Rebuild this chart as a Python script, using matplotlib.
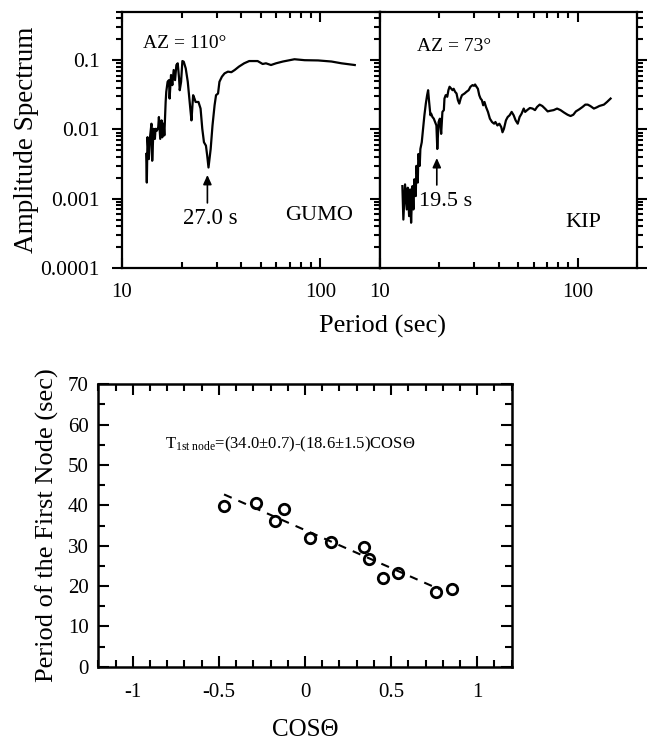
import matplotlib
matplotlib.use("Agg")
import matplotlib.pyplot as plt
from matplotlib.ticker import FixedLocator, NullFormatter, LogLocator, MultipleLocator

plt.rcParams['font.family'] = ['Liberation Serif', 'DejaVu Serif']
plt.rcParams['mathtext.fontset'] = 'custom'
plt.rcParams['mathtext.rm'] = 'Liberation Serif'
plt.rcParams['mathtext.it'] = 'Liberation Serif:italic'

# ---------------- data ----------------
gumo_T = [13.24, 13.34, 13.45, 13.66, 13.87, 14.08, 14.20, 14.42, 14.65, 14.76,
          15.0, 15.23, 15.35, 15.59, 15.83, 15.96, 16.21, 16.35, 16.6, 16.72,
          16.98, 17.26, 17.38, 17.67, 17.94, 18.22, 18.52, 18.8, 19.1, 19.4,
          19.55, 19.86, 20.16, 20.48, 20.96, 21.46, 22.1, 22.4, 22.84, 23.2,
          23.5, 24.3, 24.9, 25.4, 25.9, 26.5, 26.9, 27.3, 28.0, 28.6,
          29.3, 29.8, 30.5, 31.0, 31.9, 32.9, 34.2, 35.6, 37.0, 38.9,
          41.3, 43.8, 46.4, 48.3, 51.2, 53.2, 56.4, 59.8, 64.8, 74.1,
          83.4, 97.5, 113.8, 127.9, 149.2]
gumo_A = [0.00442, 0.00171, 0.00773, 0.00373, 0.00815, 0.0121, 0.00353, 0.0102, 0.0073, 0.0102,
          0.0096, 0.0108, 0.0151, 0.0073, 0.0135, 0.0077, 0.0121, 0.0082, 0.0249, 0.0349,
          0.0487, 0.0515, 0.0279, 0.061, 0.0436, 0.072, 0.0515, 0.085, 0.090, 0.0546,
          0.0368, 0.0487, 0.097, 0.095, 0.076, 0.0487, 0.020, 0.0135, 0.0312, 0.0279,
          0.0249, 0.0249, 0.020, 0.0102, 0.00653, 0.00583, 0.00417, 0.00282, 0.00522, 0.0114,
          0.0223, 0.0312, 0.033, 0.0487, 0.0577, 0.0644, 0.0682, 0.067, 0.072, 0.0807,
          0.090, 0.097, 0.097, 0.097, 0.088, 0.090, 0.085, 0.090, 0.0955, 0.103,
          0.0998, 0.099, 0.0955, 0.090, 0.085]

kip_T = [12.98, 13.13, 13.39, 13.66, 13.82, 14.04, 14.2, 14.37, 14.59, 14.76,
         14.93, 15.17, 15.28, 15.53, 15.64, 15.89, 16.01, 16.27, 16.52, 16.78,
         17.06, 17.32, 17.52, 17.73, 18.0, 18.15, 18.43, 18.72, 19.0, 19.3,
         19.5, 19.8, 20.1, 20.4, 20.7, 21.05, 21.2, 21.5, 21.9, 22.2,
         22.5, 22.9, 23.3, 23.6, 24.0, 24.4, 24.8, 25.2, 25.6, 26.0,
         26.8, 27.4, 28.1, 28.7, 29.4, 29.9, 30.3, 30.8, 31.3, 31.8,
         32.3, 32.8, 33.3, 33.8, 34.4, 35.2, 36.0, 36.9, 37.8, 38.4,
         39.3, 40.2, 41.1, 41.7, 42.4, 43.4, 44.3, 45.3, 46.4, 47.5,
         48.6, 49.8, 50.9, 52.1, 53.4, 54.3, 55.6, 57.4, 59.2, 60.9,
         62.4, 64.3, 66.3, 68.4, 70.6, 72.8, 75.7, 78.8, 82.0, 85.5,
         89.0, 92.2, 95.2, 98.1, 102, 106, 109.5, 112.6, 116, 121,
         125, 129, 136, 141, 147]
kip_A = [0.00152, 0.0005, 0.00161, 0.0007, 0.00144, 0.00056, 0.00136, 0.00045, 0.00152, 0.0007,
         0.00191, 0.00109, 0.00298, 0.00171, 0.00442, 0.00298, 0.00522, 0.00653, 0.0102, 0.016,
         0.0236, 0.0312, 0.0368, 0.0249, 0.016, 0.0169, 0.0151, 0.0143, 0.0128, 0.0114,
         0.00522, 0.0128, 0.0143, 0.00863, 0.0179, 0.019, 0.0279, 0.0312, 0.0296, 0.0368,
         0.0413, 0.039, 0.0368, 0.0386, 0.0349, 0.033, 0.0264, 0.0236, 0.0279, 0.0312,
         0.033, 0.0349, 0.0368, 0.0413, 0.0436, 0.0426, 0.0445, 0.0413, 0.0386, 0.0312,
         0.0279, 0.0264, 0.0223, 0.0249, 0.0211, 0.0179, 0.0143, 0.0128, 0.0121, 0.0128,
         0.0114, 0.0121, 0.0108, 0.0091, 0.0102, 0.0135, 0.0151, 0.016, 0.0179, 0.016,
         0.0135, 0.0121, 0.0151, 0.0169, 0.020, 0.0179, 0.019, 0.0204, 0.020, 0.019,
         0.0211, 0.0228, 0.0218, 0.020, 0.0182, 0.0186, 0.019, 0.020, 0.019, 0.0175,
         0.0163, 0.0156, 0.0163, 0.0182, 0.0195, 0.0211, 0.0228, 0.0228, 0.0218, 0.020,
         0.0208, 0.0218, 0.0228, 0.0249, 0.0279]

cos_theta = [-0.473, -0.283, -0.176, -0.124, 0.031, 0.149, 0.341, 0.370, 0.453, 0.541, 0.760, 0.855]
node_period = [39.9, 40.7, 36.1, 39.0, 31.8, 30.8, 29.6, 26.6, 21.9, 23.3, 18.6, 19.3]
fit_x = [-0.47, 0.78]
fit_y = [42.7, 19.2]

top_yticks = [0.0001, 0.001, 0.01, 0.1]
top_yticklabels = ['0.0001', '0.001', '0.01', '0.1']
top_xticks = [10, 100]
top_xticklabels = ['10', '100']
bot_xticks = [-1, -0.5, 0, 0.5, 1]
bot_xticklabels = ['-1', '-0.5', '0', '0.5', '1']
bot_yticks = [0, 10, 20, 30, 40, 50, 60, 70]

# ---------------- figure ----------------
W, H = 651, 741
fig = plt.figure(figsize=(W / 100, H / 100), dpi=100)

def frac(x0, y0, x1, y1):
    return [x0 / W, 1 - y1 / H, (x1 - x0) / W, (y1 - y0) / H]

ax1 = fig.add_axes(frac(122, 11.7, 380, 268))
ax2 = fig.add_axes(frac(380, 11.7, 637, 268))
ax3 = fig.add_axes(frac(98.3, 384.3, 511.7, 666.7))

for ax, T, A in [(ax1, gumo_T, gumo_A), (ax2, kip_T, kip_A)]:
    ax.plot(T, A, color='black', lw=1.6)
    ax.set_xscale('log')
    ax.set_yscale('log')
    ax.set_xlim(10, 200)
    ax.set_ylim(0.0001, 0.5)
    ax.xaxis.set_major_locator(FixedLocator(top_xticks))
    ax.set_xticklabels(top_xticklabels)
    ax.xaxis.set_minor_locator(LogLocator(base=10, subs=range(2, 10), numticks=20))
    ax.xaxis.set_minor_formatter(NullFormatter())
    ax.yaxis.set_major_locator(FixedLocator(top_yticks))
    ax.set_yticklabels(top_yticklabels)
    ax.yaxis.set_minor_locator(LogLocator(base=10, subs=range(2, 10), numticks=20))
    ax.yaxis.set_minor_formatter(NullFormatter())
    for s in ax.spines.values():
        s.set_linewidth(1.6)
    ax.tick_params(axis='x', which='both', direction='in', top=True, bottom=True,
                   width=1.5, labelsize=15, pad=11)
    ax.tick_params(axis='x', which='major', length=7)
    ax.tick_params(axis='x', which='minor', length=4)
    ax.tick_params(axis='y', which='both', direction='out', left=True, right=True,
                   width=1.5, labelsize=15.5, pad=9)
    ax.tick_params(axis='y', which='major', length=7)
    ax.tick_params(axis='y', which='minor', length=4)

ax2.tick_params(axis='y', which='both', labelleft=False)

ax1.set_ylabel('Amplitude Spectrum', fontsize=19.5, labelpad=1)
fig.text(382 / W, 1 - 326 / H, 'Period (sec)', fontsize=19, ha='center', va='center')

# annotations
ax1.text(0.081, 0.874, 'AZ = 110°', transform=ax1.transAxes, fontsize=14, ha='left', va='center')
ax1.text(0.341, 0.195, '27.0 s', transform=ax1.transAxes, fontsize=16.5, ha='center', va='center')
ax1.text(0.764, 0.203, 'GUMO', transform=ax1.transAxes, fontsize=16, ha='center', va='center')
ax1.annotate('', xy=(0.331, 0.363), xytext=(0.331, 0.254), xycoords='axes fraction',
             textcoords='axes fraction',
             arrowprops=dict(arrowstyle='-|>,head_width=0.25,head_length=0.55',
                             color='black', lw=1.2, shrinkA=0, shrinkB=0))

ax2.text(0.144, 0.866, 'AZ = 73°', transform=ax2.transAxes, fontsize=14, ha='left', va='center')
ax2.text(0.257, 0.258, '19.5 s', transform=ax2.transAxes, fontsize=16, ha='center', va='center')
ax2.text(0.790, 0.176, 'KIP', transform=ax2.transAxes, fontsize=16, ha='center', va='center')
ax2.annotate('', xy=(0.221, 0.429), xytext=(0.221, 0.324), xycoords='axes fraction',
             textcoords='axes fraction',
             arrowprops=dict(arrowstyle='-|>,head_width=0.25,head_length=0.55',
                             color='black', lw=1.2, shrinkA=0, shrinkB=0))

# ---------------- bottom panel ----------------
ax3.plot(fit_x, fit_y, color='black', lw=1.5, dashes=(4, 3.5))
ax3.plot(cos_theta, node_period, linestyle='none', marker='o', ms=7.5,
         mfc='none', mec='black', mew=2.0)
ax3.set_xlim(-1.2, 1.2)
ax3.set_ylim(0, 70)
ax3.xaxis.set_major_locator(FixedLocator(bot_xticks))
ax3.set_xticklabels(bot_xticklabels)
ax3.xaxis.set_minor_locator(MultipleLocator(0.1))
ax3.yaxis.set_major_locator(FixedLocator(bot_yticks))
ax3.yaxis.set_minor_locator(MultipleLocator(5))
for s in ax3.spines.values():
    s.set_linewidth(1.8)
ax3.tick_params(axis='both', which='both', direction='in', top=True, right=True,
                width=1.5, labelsize=15)
ax3.tick_params(axis='x', which='both', pad=12)
ax3.tick_params(axis='y', which='both', pad=7)
ax3.tick_params(which='major', length=8)
ax3.tick_params(which='minor', length=5)
ax3.set_ylabel('Period of the First Node (sec)', fontsize=19, labelpad=6)
ax3.set_xlabel('COSΘ', fontsize=18, labelpad=12)
ax3.text(-0.81, 55, r'T$_{\mathrm{1st\ node}}$=(34.0±0.7)-(18.6±1.5)COSΘ',
         fontsize=12, ha='left', va='center')

fig.savefig('out.png', dpi=100)
